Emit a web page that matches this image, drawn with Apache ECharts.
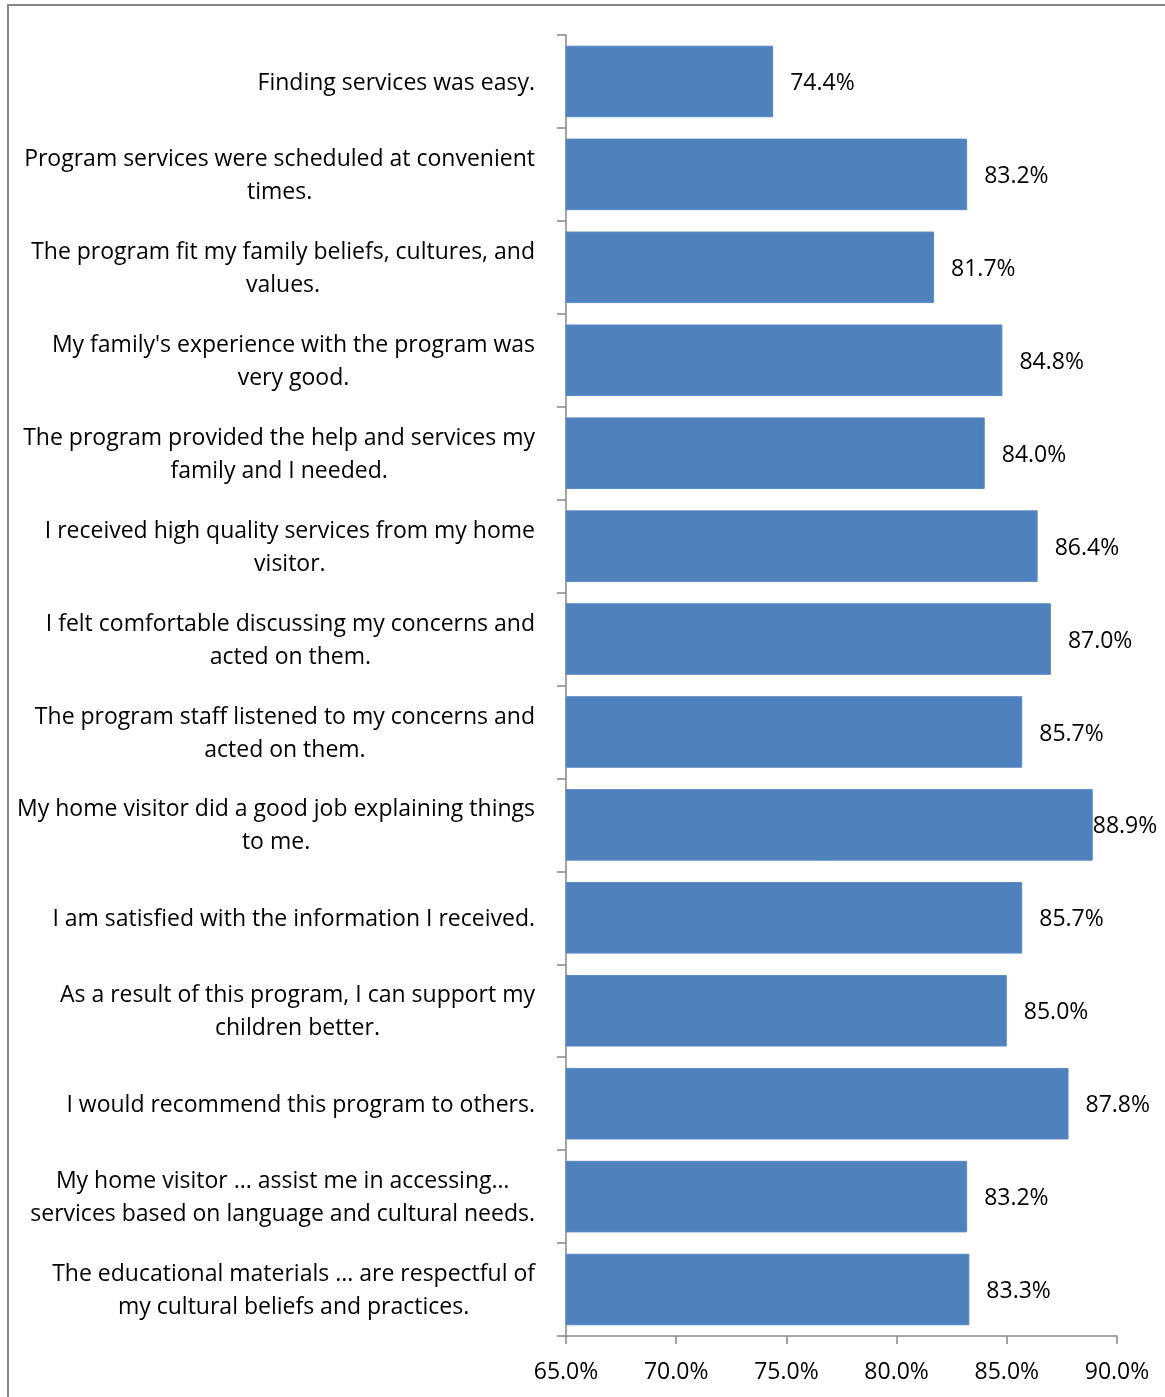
<!DOCTYPE html>
<html>
<head>
<meta charset="utf-8">
<script src="https://cdn.jsdelivr.net/npm/echarts@6/dist/echarts.min.js"></script>
<style>
html,body{margin:0;padding:0;background:#fff;}
#chart{width:1165px;height:1397px;}
</style>
</head>
<body>
<div id="chart"></div>
<script>
const categories = [
  "Finding services was easy.",
  "Program services were scheduled at convenient\ntimes.",
  "The program fit my family beliefs, cultures, and\nvalues.",
  "My family's experience with the program was\nvery good.",
  "The program provided the help and services my\nfamily and I needed.",
  "I received high quality services from my home\nvisitor.",
  "I felt comfortable discussing my concerns and\nacted on them.",
  "The program staff listened to my concerns and\nacted on them.",
  "My home visitor did a good job explaining things\nto me.",
  "I am satisfied with the information I received.",
  "As a result of this program, I can support my\nchildren better.",
  "I would recommend this program to others.",
  "My home visitor ... assist me in accessing…\nservices based on language and cultural needs.",
  "The educational materials ... are respectful of\nmy cultural beliefs and practices."
];
const values = [74.4, 83.2, 81.7, 84.8, 84.0, 86.4, 87.0, 85.7, 88.9, 85.7, 85.0, 87.8, 83.2, 83.3];
const xTicks = [65, 70, 75, 80, 85, 90];

const FONT = "Open Sans";
const FS = 23;
const chart = echarts.init(document.getElementById('chart'), null, {renderer: 'canvas'});
const maxV = Math.max(...values);
const seriesData = values.map(v => v === maxV ? {value: v, label: {distance: 0}} : v);

chart.setOption({
  animation: false,
  backgroundColor: '#fff',
  graphic: [{
    type: 'rect',
    shape: {x: 8, y: 5, width: 1200, height: 1420},
    style: {fill: 'none', stroke: '#868686', lineWidth: 2},
    silent: true
  }],
  grid: {left: 566, right: 48, top: 35, bottom: 61, containLabel: false},
  xAxis: {
    type: 'value',
    min: xTicks[0], max: xTicks[xTicks.length - 1], interval: 5,
    axisLine: {show: true, lineStyle: {color: '#868686', width: 1.5}},
    axisTick: {show: true, length: 8, lineStyle: {color: '#868686', width: 1.5}},
    splitLine: {show: false},
    axisLabel: {
      formatter: v => v.toFixed(1) + '%',
      color: '#000', fontFamily: FONT, fontSize: FS, margin: 25
    }
  },
  yAxis: {
    type: 'category',
    inverse: true,
    data: categories,
    axisLine: {show: true, lineStyle: {color: '#868686', width: 1.5}},
    axisTick: {show: true, length: 9, alignWithLabel: false, lineStyle: {color: '#868686', width: 1.5}},
    axisLabel: {
      margin: 31,
      color: '#000',
      fontFamily: FONT,
      fontSize: FS,
      lineHeight: 33,
      align: 'right',
      padding: [3, 0, 0, 0],
      formatter: v => v.split('\n').map(l => '{c|' + l + '}').join('\n'),
      rich: {c: {align: 'center', fontFamily: FONT, fontSize: FS, lineHeight: 33, color: '#000'}}
    }
  },
  series: [{
    type: 'bar',
    data: seriesData,
    barCategoryGap: '23%',
    itemStyle: {color: '#4f81bd', borderColor: '#5a8ac6', borderWidth: 1},
    label: {
      show: true, position: 'right', distance: 17, offset: [0, 2],
      formatter: p => p.value.toFixed(1) + '%',
      color: '#000', fontFamily: FONT, fontSize: FS
    }
  }]
});
</script>
</body>
</html>
